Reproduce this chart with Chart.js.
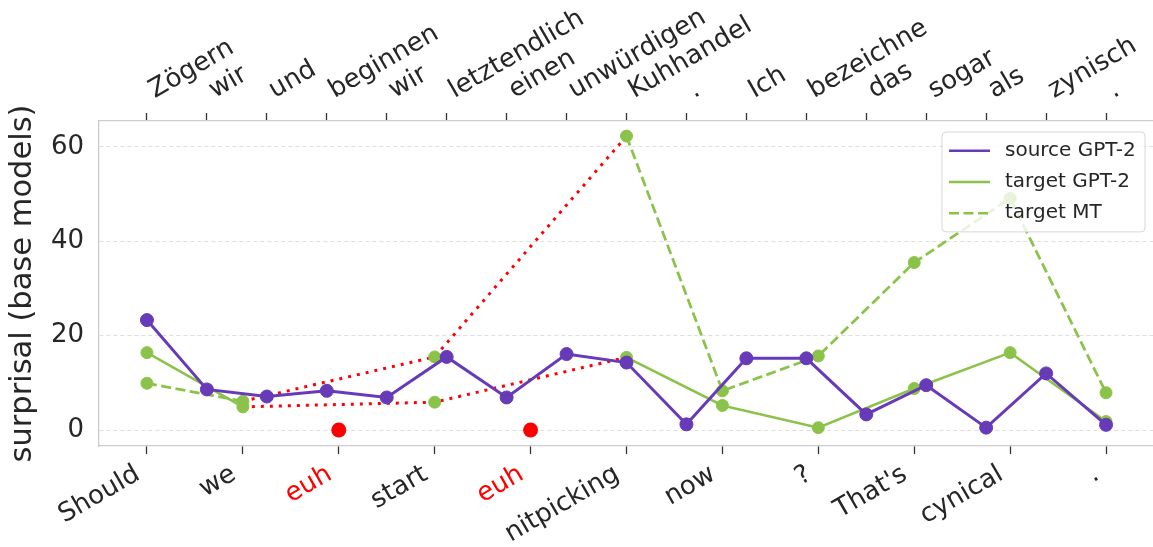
<!DOCTYPE html>
<html>
<head>
<meta charset="utf-8">
<script src="https://cdn.jsdelivr.net/npm/chart.js@4.4.1/dist/chart.umd.min.js"></script>
<style>
  html, body { margin: 0; padding: 0; background: #ffffff; overflow: hidden; }
  #wrap { position: relative; width: 1154px; height: 547px; }
</style>
</head>
<body>
<div id="wrap"><canvas id="chart"></canvas></div>
<script>
// English output tokens (bottom axis)
const targetTokens = ['Should', 'we', 'euh', 'start', 'euh', 'nitpicking', 'now', '?', "That's", 'cynical', '.'];
// German input tokens (top axis)
const sourceTokens = ['Zögern', 'wir', 'und', 'beginnen', 'wir', 'letztendlich', 'einen', 'unwürdigen',
  'Kuhhandel', '.', 'Ich', 'bezeichne', 'das', 'sogar', 'als', 'zynisch', '.'];
const fillerTokens = ['euh'];
const surprisalTicks = [0, 20, 40, 60];

// Surprisal per token (null = filler word, no value for that series)
const sourceGpt2 = [23.3, 8.6, 7.1, 8.3, 6.9, 15.5, 6.9, 16.1, 14.3, 1.2, 15.2, 15.2, 3.3, 9.5, 0.5, 12.0, 1.1];
const targetGpt2 = [16.4, 4.9, null, 15.5, null, 15.4, 5.2, 0.5, 8.8, 16.4, 1.8];
const targetMT   = [9.9, 6.1, null, 5.9, null, 62.3, 8.3, 15.7, 35.5, 49.1, 7.9];
const fillerSurprisal = [null, null, 0, null, 0, null, null, null, null, null, null];
// Dotted links bridging the filler words
const bridgeUpper = [null, 6.1, null, 15.5, null, 62.3, null, null, null, null, null];
const bridgeLower = [null, 4.9, null, 5.9, null, 15.4, null, null, null, null, null];

const PURPLE = '#673ab7';
const GREEN = '#8bc34a';
const RED = '#ff0000';
const INK = '#262626';

// target token i sits at x = i; source tokens are spread over the same span
const sourceStep = (targetTokens.length - 1) / (sourceTokens.length - 1);
const targetSeries = arr => arr.map((y, i) => ({ x: i, y }));           // keeps gaps
const targetLinks = arr => targetSeries(arr).filter(p => p.y !== null); // joins across gaps
const sourceSeries = arr => arr.map((y, j) => ({ x: j * sourceStep, y }));

Chart.defaults.font.family = "'DejaVu Sans', sans-serif";
Chart.defaults.color = INK;

// Legend box drawn inside the plot area, over the lines
const legendInside = {
  id: 'legendInside',
  afterDatasetsDraw(chart, args, opts) {
    const { ctx, chartArea } = chart;
    const items = chart.data.datasets.filter(d => d.label);
    const w = opts.width, rowH = opts.rowHeight;
    const h = opts.padY * 2 + rowH * items.length;
    const x0 = chartArea.right - opts.marginRight - w;
    const y0 = chartArea.top + opts.marginTop;
    ctx.save();
    ctx.beginPath();
    ctx.roundRect(x0, y0, w, h, 4);
    ctx.fillStyle = 'rgba(255,255,255,0.8)';
    ctx.fill();
    ctx.lineWidth = 1;
    ctx.strokeStyle = '#d6d6d6';
    ctx.stroke();
    ctx.font = opts.fontSize + "px 'DejaVu Sans'";
    ctx.textBaseline = 'middle';
    ctx.textAlign = 'left';
    items.forEach((d, k) => {
      const cy = y0 + opts.padY + rowH * (k + 0.5);
      ctx.beginPath();
      ctx.setLineDash(d.borderDash || []);
      ctx.lineWidth = 2.5;
      ctx.strokeStyle = d.borderColor;
      ctx.moveTo(x0 + 7, cy);
      ctx.lineTo(x0 + 48, cy);
      ctx.stroke();
      ctx.setLineDash([]);
      ctx.fillStyle = INK;
      ctx.fillText(d.label, x0 + 63, cy);
    });
    ctx.restore();
  }
};

// Shift the rotated tick labels of an axis by a fixed offset
const labelNudge = {
  id: 'labelNudge',
  beforeDraw(chart, args, opts) {
    Object.entries(opts.offsets || {}).forEach(([id, off]) => {
      const scale = chart.scales[id];
      if (!scale) return;
      scale.getLabelItems().forEach(item => {
        if (item._nudged) return;
        const t = item.options.translation;
        item.options.translation = [t[0] + off[0], t[1] + off[1]];
        item._nudged = true;
      });
    });
  }
};

const noSidePadding = s => { s.paddingLeft = 0; s.paddingRight = 0; };

new Chart(document.getElementById('chart'), {
  type: 'line',
  data: {
    datasets: [
      {
        label: 'source GPT-2',
        data: sourceSeries(sourceGpt2),
        borderColor: PURPLE, backgroundColor: PURPLE,
        borderWidth: 3, pointRadius: 6.5, pointBorderWidth: 1,
        pointBackgroundColor: PURPLE, pointBorderColor: PURPLE
      },
      {
        label: 'target GPT-2',
        data: targetSeries(targetGpt2),
        spanGaps: false,
        borderColor: GREEN, backgroundColor: GREEN,
        borderWidth: 2.5, pointRadius: 6, pointBorderWidth: 1,
        pointBackgroundColor: GREEN, pointBorderColor: GREEN
      },
      {
        label: 'target MT',
        data: targetSeries(targetMT),
        spanGaps: false,
        borderColor: GREEN, backgroundColor: GREEN,
        borderWidth: 2.75, borderDash: [10, 4.5], pointRadius: 6, pointBorderWidth: 1,
        pointBackgroundColor: GREEN, pointBorderColor: GREEN
      },
      {
        data: targetLinks(bridgeUpper),
        borderColor: RED, borderWidth: 3, borderDash: [3, 6], pointRadius: 0
      },
      {
        data: targetLinks(bridgeLower),
        borderColor: RED, borderWidth: 3, borderDash: [3, 6], pointRadius: 0
      },
      {
        data: targetLinks(fillerSurprisal),
        showLine: false, pointRadius: 7.5, pointBorderWidth: 0,
        pointBackgroundColor: RED, borderColor: RED
      }
    ]
  },
  options: {
    responsive: true,
    maintainAspectRatio: false,
    animation: false,
    events: [],
    layout: { padding: 0, autoPadding: false },
    scales: {
      x: {
        type: 'linear', position: 'bottom', min: -0.5, max: 10.5,
        afterBuildTicks: s => { s.ticks = targetTokens.map((_, i) => ({ value: i })); },
        afterFit: s => { s.height = 101; noSidePadding(s); },
        grid: { display: true, drawOnChartArea: false, drawTicks: true, tickLength: 8, tickColor: '#333333', tickWidth: 1.3 },
        border: { display: true, color: '#cccccc', width: 1.3 },
        ticks: {
          autoSkip: false, minRotation: 30, maxRotation: 30, padding: 6,
          font: { size: 26 },
          color: c => (fillerTokens.includes(targetTokens[c.index]) ? RED : INK),
          callback: (v, i) => targetTokens[i]
        }
      },
      xTop: {
        type: 'linear', axis: 'x', position: 'top', min: -0.5, max: 10.5,
        afterBuildTicks: s => { s.ticks = sourceTokens.map((_, j) => ({ value: j * sourceStep })); },
        afterFit: s => { s.height = 121; noSidePadding(s); },
        grid: { display: true, drawOnChartArea: false, drawTicks: true, tickLength: 8, tickColor: '#333333', tickWidth: 1.3 },
        border: { display: true, color: '#cccccc', width: 1.3 },
        ticks: {
          autoSkip: false, minRotation: 30, maxRotation: 30, padding: 7,
          font: { size: 26 }, color: INK,
          callback: (v, i) => sourceTokens[i]
        }
      },
      y: {
        type: 'linear', position: 'left', min: -3.39, max: 65.5,
        afterBuildTicks: s => { s.ticks = surprisalTicks.map(v => ({ value: v })); },
        afterFit: s => { s.width = 99; },
        grid: { display: true, drawTicks: false, color: '#dedede', lineWidth: 1 },
        border: { display: true, color: '#cccccc', width: 1.3, dash: [4, 3] },
        ticks: { padding: 15, font: { size: 26 }, color: INK },
        title: {
          display: true, text: 'surprisal (base models)',
          font: { size: 30.5 }, color: INK, padding: { top: 5, bottom: 0 }
        }
      }
    },
    plugins: {
      legend: { display: false },
      tooltip: { enabled: false },
      legendInside: { width: 203, rowHeight: 31.3, padY: 3, marginRight: 9, marginTop: 11, fontSize: 20 },
      labelNudge: { offsets: { xTop: [20, 0], x: [-9, -1] } }
    }
  },
  plugins: [legendInside, labelNudge]
});
</script>
</body>
</html>
